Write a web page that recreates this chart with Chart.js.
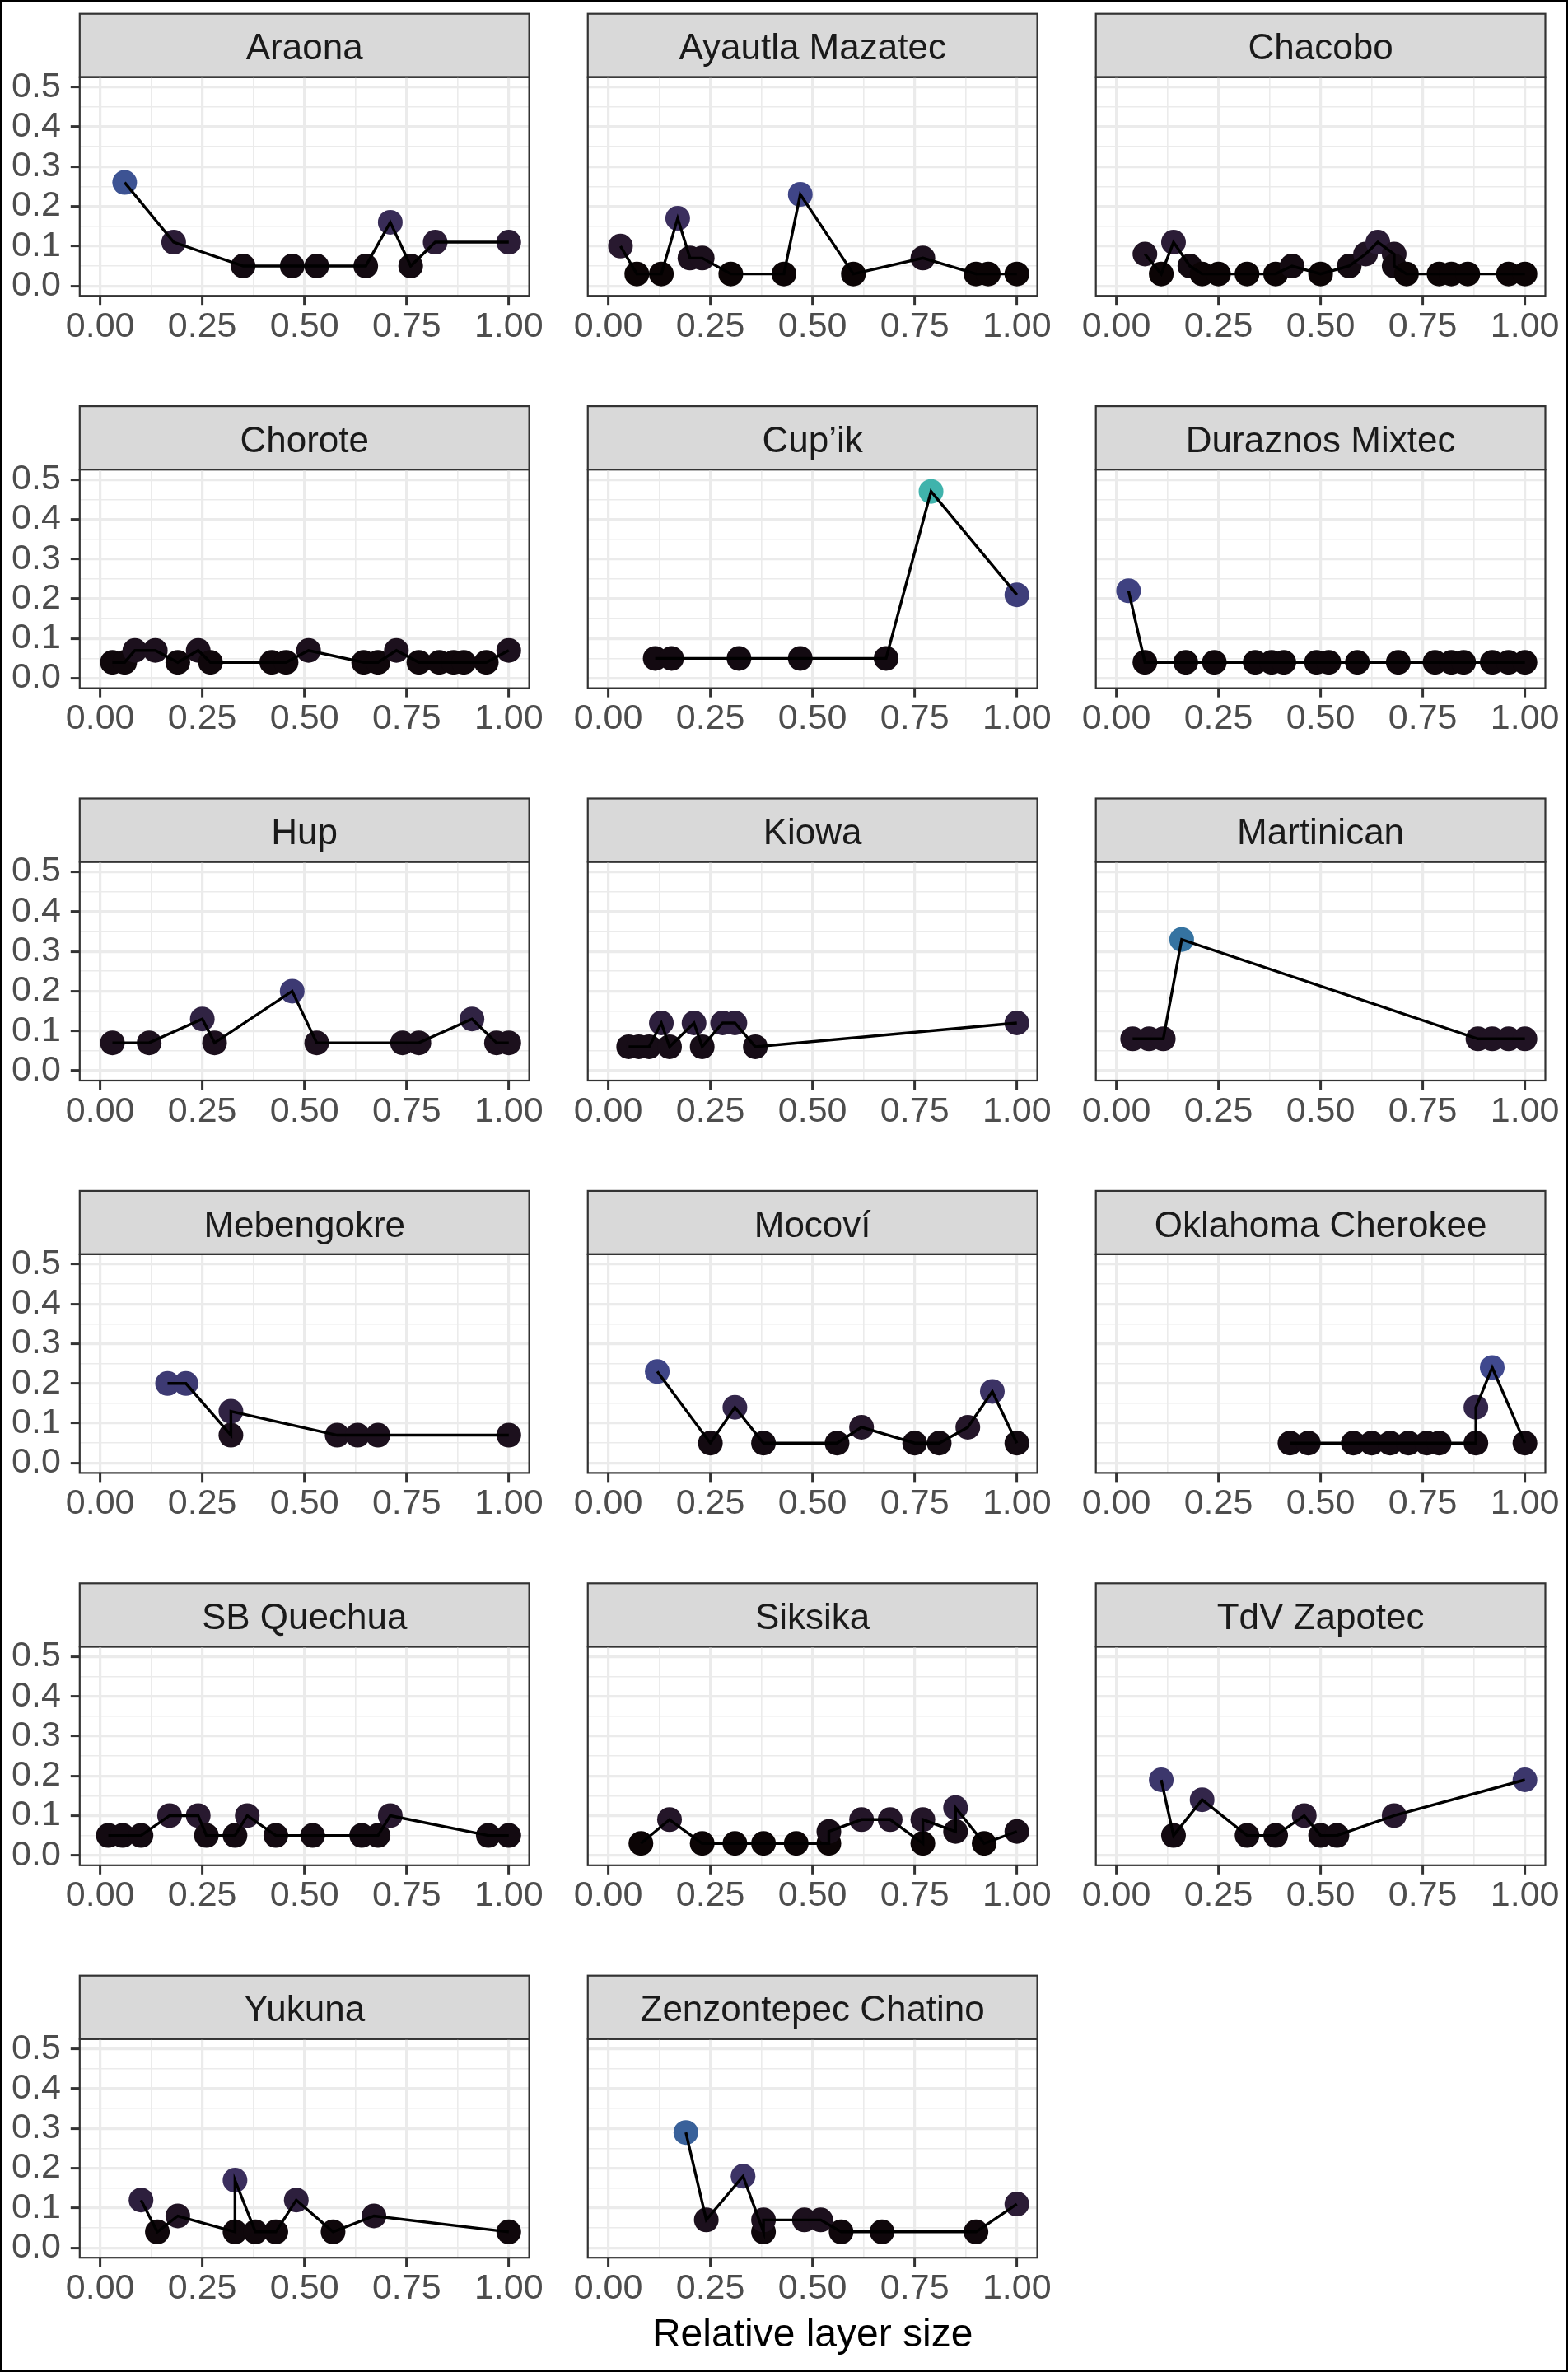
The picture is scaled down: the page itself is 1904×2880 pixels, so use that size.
<!DOCTYPE html>
<html>
<head>
<meta charset="utf-8">
<script src="https://cdn.jsdelivr.net/npm/chart.js@4.4.1/dist/chart.umd.min.js"></script>
<style>
html, body { margin: 0; padding: 0; background: #ffffff; }
#frame { position: relative; width: 1904px; height: 2880px; overflow: hidden; background: #ffffff; }
#frame canvas { position: absolute; }
#outline { position: absolute; left: 0; top: 0; width: 1904px; height: 2880px; box-sizing: border-box; border: 3px solid #000; pointer-events: none; z-index: 10; }
</style>
</head>
<body>
<div id="frame"><div id="outline"></div></div>
<script>
// ---------------- data ----------------
const languages = ['Araona', 'Ayautla Mazatec', 'Chacobo', 'Chorote', 'Cup\u2019ik', 'Duraznos Mixtec',
  'Hup', 'Kiowa', 'Martinican', 'Mebengokre', 'Mocoví', 'Oklahoma Cherokee',
  'SB Quechua', 'Siksika', 'TdV Zapotec', 'Yukuna', 'Zenzontepec Chatino'];

const araonaX = [0.06, 0.18, 0.35, 0.47, 0.53, 0.65, 0.71, 0.76, 0.82, 1.00];
const araonaY = [0.26, 0.11, 0.05, 0.05, 0.05, 0.05, 0.16, 0.05, 0.11, 0.11];

const ayautlaX = [0.03, 0.07, 0.13, 0.17, 0.20, 0.23, 0.30, 0.43, 0.47, 0.60, 0.77, 0.90, 0.93, 1.00];
const ayautlaY = [0.10, 0.03, 0.03, 0.17, 0.07, 0.07, 0.03, 0.03, 0.23, 0.03, 0.07, 0.03, 0.03, 0.03];

const chacoboX = [0.07, 0.11, 0.14, 0.18, 0.21, 0.25, 0.32, 0.39, 0.43, 0.50, 0.57, 0.61, 0.64, 0.68, 0.68, 0.71, 0.79, 0.82, 0.86, 0.96, 1.00];
const chacoboY = [0.08, 0.03, 0.11, 0.05, 0.03, 0.03, 0.03, 0.03, 0.05, 0.03, 0.05, 0.08, 0.11, 0.08, 0.05, 0.03, 0.03, 0.03, 0.03, 0.03, 0.03];

const choroteX = [0.03, 0.06, 0.085, 0.135, 0.19, 0.24, 0.27, 0.42, 0.455, 0.51, 0.645, 0.68, 0.725, 0.78, 0.83, 0.865, 0.89, 0.945, 1.00];
const choroteY = [0.04, 0.04, 0.07, 0.07, 0.04, 0.07, 0.04, 0.04, 0.04, 0.07, 0.04, 0.04, 0.07, 0.04, 0.04, 0.04, 0.04, 0.04, 0.07];

const cupikX = [0.115, 0.155, 0.32, 0.47, 0.68, 0.79, 1.00];
const cupikY = [0.05, 0.05, 0.05, 0.05, 0.05, 0.47, 0.21];

const duraznosX = [0.03, 0.07, 0.17, 0.24, 0.34, 0.38, 0.41, 0.49, 0.52, 0.59, 0.69, 0.78, 0.82, 0.85, 0.92, 0.96, 1.00];
const duraznosY = [0.22, 0.04, 0.04, 0.04, 0.04, 0.04, 0.04, 0.04, 0.04, 0.04, 0.04, 0.04, 0.04, 0.04, 0.04, 0.04, 0.04];

const hupX = [0.03, 0.12, 0.25, 0.28, 0.47, 0.53, 0.74, 0.78, 0.91, 0.97, 1.00];
const hupY = [0.07, 0.07, 0.13, 0.07, 0.20, 0.07, 0.07, 0.07, 0.13, 0.07, 0.07];

const kiowaX = [0.05, 0.075, 0.10, 0.13, 0.15, 0.21, 0.23, 0.28, 0.31, 0.36, 1.00];
const kiowaY = [0.06, 0.06, 0.06, 0.12, 0.06, 0.12, 0.06, 0.12, 0.12, 0.06, 0.12];

const martinicanX = [0.04, 0.08, 0.115, 0.16, 0.885, 0.92, 0.96, 1.00];
const martinicanY = [0.08, 0.08, 0.08, 0.33, 0.08, 0.08, 0.08, 0.08];

const mebengokreX = [0.165, 0.21, 0.32, 0.32, 0.58, 0.63, 0.68, 1.00];
const mebengokreY = [0.20, 0.20, 0.07, 0.13, 0.07, 0.07, 0.07, 0.07];

const mocoviX = [0.12, 0.25, 0.31, 0.38, 0.56, 0.62, 0.75, 0.81, 0.88, 0.94, 1.00];
const mocoviY = [0.23, 0.05, 0.14, 0.05, 0.05, 0.09, 0.05, 0.05, 0.09, 0.18, 0.05];

const cherokeeX = [0.425, 0.47, 0.58, 0.625, 0.67, 0.715, 0.76, 0.79, 0.88, 0.88, 0.92, 1.00];
const cherokeeY = [0.05, 0.05, 0.05, 0.05, 0.05, 0.05, 0.05, 0.05, 0.05, 0.14, 0.24, 0.05];

const quechuaX = [0.02, 0.055, 0.10, 0.17, 0.24, 0.26, 0.33, 0.36, 0.43, 0.52, 0.64, 0.68, 0.71, 0.95, 1.00];
const quechuaY = [0.05, 0.05, 0.05, 0.10, 0.10, 0.05, 0.05, 0.10, 0.05, 0.05, 0.05, 0.05, 0.10, 0.05, 0.05];

const siksikaX = [0.08, 0.15, 0.23, 0.31, 0.38, 0.46, 0.54, 0.54, 0.62, 0.69, 0.77, 0.77, 0.85, 0.85, 0.92, 1.00];
const siksikaY = [0.03, 0.09, 0.03, 0.03, 0.03, 0.03, 0.03, 0.06, 0.09, 0.09, 0.03, 0.09, 0.06, 0.12, 0.03, 0.06];

const zapotecX = [0.11, 0.14, 0.21, 0.32, 0.39, 0.46, 0.50, 0.54, 0.68, 1.00];
const zapotecY = [0.19, 0.05, 0.14, 0.05, 0.05, 0.10, 0.05, 0.05, 0.10, 0.19];

const yukunaX = [0.10, 0.14, 0.19, 0.33, 0.33, 0.38, 0.43, 0.48, 0.57, 0.67, 1.00];
const yukunaY = [0.12, 0.04, 0.08, 0.04, 0.17, 0.04, 0.04, 0.12, 0.04, 0.08, 0.04];

const chatinoX = [0.19, 0.24, 0.33, 0.38, 0.38, 0.48, 0.52, 0.57, 0.67, 0.90, 1.00];
const chatinoY = [0.29, 0.07, 0.18, 0.04, 0.07, 0.07, 0.07, 0.04, 0.04, 0.04, 0.11];

const seriesX = [araonaX, ayautlaX, chacoboX, choroteX, cupikX, duraznosX, hupX, kiowaX, martinicanX,
  mebengokreX, mocoviX, cherokeeX, quechuaX, siksikaX, zapotecX, yukunaX, chatinoX];
const seriesY = [araonaY, ayautlaY, chacoboY, choroteY, cupikY, duraznosY, hupY, kiowaY, martinicanY,
  mebengokreY, mocoviY, cherokeeY, quechuaY, siksikaY, zapotecY, yukunaY, chatinoY];

const xTickValues = [0, 0.25, 0.5, 0.75, 1.0];
const yTickValues = [0, 0.1, 0.2, 0.3, 0.4, 0.5];
const xTitle = 'Relative layer size';

// colour scale (mako, 0 .. 0.7 of the map over the data range)
const makoStops = ['#0B0405', '#28192F', '#3B2F5E', '#40498E', '#366A9F', '#348AA6', '#38AAAC', '#54C9AD', '#A0DFB9', '#DEF5E5'];
const colorMin = 0.03, colorMax = 0.47, colorEnd = 0.7;

// ---------------- helpers ----------------
function hexToRgb(h) { return [parseInt(h.substr(1, 2), 16), parseInt(h.substr(3, 2), 16), parseInt(h.substr(5, 2), 16)]; }
function makoColor(v) {
  let t = (v - colorMin) / (colorMax - colorMin);
  t = Math.max(0, Math.min(1, t)) * colorEnd;
  const n = makoStops.length - 1;
  const p = t * n;
  const k = Math.min(n - 1, Math.floor(p));
  const f = p - k;
  const a = hexToRgb(makoStops[k]), b = hexToRgb(makoStops[k + 1]);
  const c = a.map((av, j) => Math.round(av + (b[j] - av) * f));
  return 'rgb(' + c.join(',') + ')';
}
function withMinor(major) {
  const out = [];
  for (let k = 0; k < major.length; k++) {
    out.push(major[k]);
    if (k < major.length - 1) out.push((major[k] + major[k + 1]) / 2);
  }
  return out;
}
function isIn(v, arr) { return arr.some(m => Math.abs(m - v) < 1e-9); }

const xGrid = withMinor(xTickValues);
const yGrid = withMinor(yTickValues);

// ---------------- layout ----------------
const FONT = "'Liberation Sans', Arial, Helvetica, sans-serif";
const ROW_PITCH = 476.4, COL_PITCH = 616.95;
const STRIP_TOP0 = 16.7, STRIP_H = 77, PLOT_H = 265.5, PLOT_W = 545.8, PLOT_LEFT0 = 96.8;
const Y_AXIS_W = 96, RIGHT_PAD = 30, AXIS_H = 62, TOP_PAD = 4;
const GRID_MAJOR = 3.2, GRID_MINOR = 1.6, GRID_COL = '#ebebeb', DARK = '#333333';

const stripPlugin = {
  id: 'strip',
  beforeDraw(chart) {
    const { ctx, chartArea: a } = chart;
    ctx.save();
    ctx.fillStyle = '#d9d9d9';
    ctx.fillRect(a.left, a.top - STRIP_H, a.right - a.left, STRIP_H);
    ctx.strokeStyle = DARK;
    ctx.lineWidth = 2.2;
    ctx.strokeRect(a.left, a.top - STRIP_H, a.right - a.left, STRIP_H);
    ctx.restore();
  },
  afterDatasetsDraw(chart) {
    const { ctx, chartArea: a } = chart;
    ctx.save();
    ctx.strokeStyle = DARK;
    ctx.lineWidth = 2.2;
    ctx.strokeRect(a.left, a.top, a.right - a.left, a.bottom - a.top);
    ctx.restore();
  }
};

const frame = document.getElementById('frame');

languages.forEach((name, i) => {
  const r = Math.floor(i / 3), c = i % 3;
  const stripTop = STRIP_TOP0 + r * ROW_PITCH;
  const plotTop = stripTop + STRIP_H;
  const plotBottom = plotTop + PLOT_H;
  const plotLeft = PLOT_LEFT0 + c * COL_PITCH;
  const titlePanel = (i === 16);

  const cl = Math.floor(plotLeft - Y_AXIS_W);
  const ct = Math.floor(stripTop - TOP_PAD);
  const cw = Math.ceil(plotLeft + PLOT_W + RIGHT_PAD) - cl;
  const cb = titlePanel ? 2876 : Math.ceil(plotBottom + AXIS_H);
  const ch = cb - ct;
  const yW = plotLeft - cl;
  const padTop = stripTop - ct;
  const padRight = cw - yW - PLOT_W;
  const xH = cb - plotBottom;

  const canvas = document.createElement('canvas');
  canvas.width = cw; canvas.height = ch;
  canvas.style.left = cl + 'px'; canvas.style.top = ct + 'px';
  canvas.style.width = cw + 'px'; canvas.style.height = ch + 'px';
  frame.appendChild(canvas);

  const pts = seriesX[i].map((x, k) => ({ x: x, y: seriesY[i][k] }));
  const showY = (c === 0);

  new Chart(canvas.getContext('2d'), {
    type: 'scatter',
    data: {
      datasets: [
        { label: 'line', data: pts, showLine: true, borderColor: '#000000', borderWidth: 3.4,
          pointRadius: 0, pointHoverRadius: 0, fill: false, order: 0 },
        { label: 'points', data: pts, showLine: false, pointRadius: 15, pointHoverRadius: 15,
          pointBorderWidth: 0, pointBackgroundColor: seriesY[i].map(makoColor), order: 1 }
      ]
    },
    options: {
      responsive: false, animation: false, devicePixelRatio: 1, events: [],
      layout: { autoPadding: false, padding: { top: padTop, left: 0, right: padRight, bottom: 0 } },
      plugins: {
        legend: { display: false }, tooltip: { enabled: false },
        title: { display: true, text: name, fullSize: false, color: '#1a1a1a',
          font: { family: FONT, size: 44, weight: 'normal', lineHeight: '52px' },
          padding: { top: 17.5, bottom: 7.5 } }
      },
      scales: {
        x: {
          type: 'linear', min: -0.05, max: 1.05,
          afterBuildTicks: s => { s.ticks = xGrid.map(v => ({ value: v })); },
          afterFit: s => { s.height = xH; },
          border: { display: false },
          grid: {
            color: GRID_COL,
            lineWidth: ctx => isIn(ctx.tick.value, xTickValues) ? GRID_MAJOR : GRID_MINOR,
            drawTicks: true, tickLength: 11,
            tickColor: ctx => isIn(ctx.tick.value, xTickValues) ? DARK : 'rgba(0,0,0,0)',
            tickWidth: 3
          },
          ticks: {
            autoSkip: false, maxRotation: 0, minRotation: 0, padding: 1, color: '#4d4d4d',
            font: { family: FONT, size: 43 },
            callback: v => isIn(v, xTickValues) ? v.toFixed(2) : ''
          },
          title: { display: titlePanel, text: xTitle, color: '#000000',
            font: { family: FONT, size: 48 }, padding: { top: 0, bottom: 11 } }
        },
        y: {
          type: 'linear', min: -0.025, max: 0.525,
          afterBuildTicks: s => { s.ticks = yGrid.map(v => ({ value: v })); },
          afterFit: s => { s.width = yW; },
          border: { display: false },
          grid: {
            color: GRID_COL,
            lineWidth: ctx => isIn(ctx.tick.value, yTickValues) ? GRID_MAJOR : GRID_MINOR,
            drawTicks: showY, tickLength: 11,
            tickColor: ctx => isIn(ctx.tick.value, yTickValues) ? DARK : 'rgba(0,0,0,0)',
            tickWidth: 3
          },
          ticks: {
            display: showY, autoSkip: false, padding: 12, color: '#4d4d4d',
            font: { family: FONT, size: 43 },
            callback: v => isIn(v, yTickValues) ? v.toFixed(1) : ''
          }
        }
      }
    },
    plugins: [stripPlugin]
  });
});
</script>
</body>
</html>
